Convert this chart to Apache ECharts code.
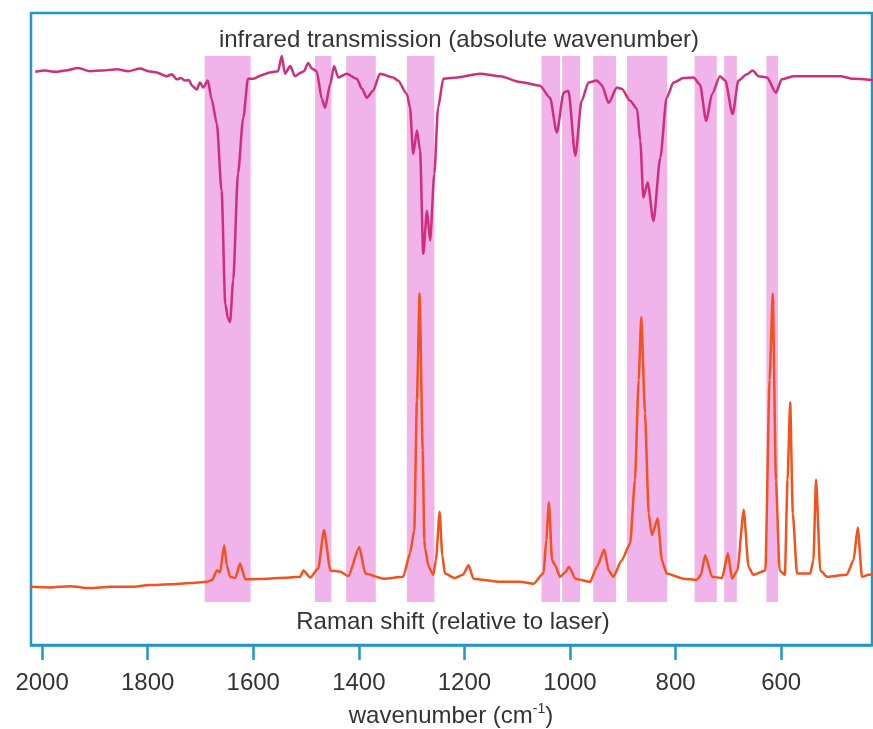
<!DOCTYPE html>
<html>
<head>
<meta charset="utf-8">
<script src="https://cdn.jsdelivr.net/npm/echarts@6/dist/echarts.min.js"></script>
<style>
html,body{margin:0;padding:0;background:#ffffff;}
#c{width:873px;height:729px;}
</style>
</head>
<body>
<div id="c"></div>
<script>
// x: wavenumber (cm-1), y: vertical position in arbitrary units (0-100)
var tickValues = [2000, 1800, 1600, 1400, 1200, 1000, 800, 600];

var irWave = [2013,1994,1975,1956,1932,1909,1886,1858,1837,1814,1799,1783,1764,1754,1745,1737,1729,1722,1716,1707,1701,1695,1686,1679,1669,1660,1653,1648,1644,1638,1629,1619,1610,1600,1583,1568,1553,1546,1540,1530,1521,1511,1504,1496,1489,1480,1470,1464,1454,1447,1439,1423,1404,1394,1385,1373,1360,1335,1326,1309,1303,1297,1290,1284,1278,1271,1265,1257,1250,1240,1214,1170,1132,1095,1057,1038,1025,1012,1003,990,978,965,949,940,927,911,902,886,873,867,861,853,842,829,817,804,785,766,754,742,731,716,706,692,681,665,654,643,627,610,599,577,526,488,464,426];
var irValue = [90.7,90.9,90.7,90.9,91.3,90.8,90.9,91.1,90.8,91.2,90.8,90.6,90.0,90.3,89.5,89.7,89.3,89.4,88.5,87.9,89.0,88.2,89.3,86.4,82.5,71.9,54.0,51.7,51.1,57.7,74.6,83.4,89.6,89.6,90.2,90.6,90.8,93.2,90.4,91.6,90.0,90.5,90.8,92.1,91.2,90.8,86.4,85.0,88.8,91.6,89.8,90.4,89.6,88.0,86.6,87.7,90.4,89.8,89.3,87.2,85.0,77.7,81.4,78.2,61.9,68.7,64.0,74.6,85.0,89.6,89.8,90.4,90.0,89.1,88.5,86.6,81.1,87.4,87.7,77.4,86.1,89.0,89.3,88.6,85.8,88.2,88.0,86.1,84.8,79.8,70.8,73.2,67.1,77.1,86.6,89.0,89.7,89.8,88.7,82.9,87.2,90.0,89.3,84.0,89.3,90.3,90.9,90.0,89.8,87.4,89.5,90.0,90.0,90.0,89.6,89.4];

var ramanWave = [2023,1985,1947,1909,1871,1833,1795,1758,1720,1688,1678,1669,1663,1655,1650,1644,1634,1625,1615,1574,1530,1511,1505,1492,1477,1466,1454,1435,1420,1399,1388,1353,1316,1303,1295,1290,1285,1279,1276,1274.5,1268,1259,1254,1247,1242,1237,1218,1203,1192,1183,1132,1095,1069,1050,1045,1040,1034,1028,1019,1009,1002,990,962,949,935,927,918,902,886,877,870,865,858,851,845,834,826,817,785,760,752,744,731,712,701,693,683,671,662,653,630,622,616,610,603,593,588,583,578,570,545,539,534,526,513,476,463,455,447,435,426];
var ramanValue = [9.2,9.1,9.3,9.0,9.2,9.2,9.5,9.6,9.8,10.0,10.3,11.8,11.5,15.8,12.6,10.8,10.6,12.9,10.4,10.5,10.7,10.8,11.8,10.7,12.1,18.2,11.8,11.6,10.9,15.5,11.3,10.5,10.8,14.5,18.2,38.7,55.6,30.8,16.6,15.3,12.4,11.1,13.4,21.1,14.2,11.3,10.6,11.1,12.6,10.5,10.0,10.0,9.7,11.4,16.6,22.6,13.4,12.6,10.8,11.5,12.4,10.5,10.0,12.4,15.1,11.8,10.8,13.4,16.1,26.1,41.9,51.9,36.7,20.8,17.4,20.0,13.4,11.3,10.5,10.3,11.1,14.2,10.8,10.6,14.5,10.5,11.8,21.4,12.4,11.1,11.8,41.9,55.6,26.1,11.8,11.1,26.1,38.4,20.8,11.3,11.3,13.4,26.2,11.8,10.8,11.1,13.4,18.6,10.8,11.1,11.3];

// shaded correlation bands (wavenumber ranges)
var bandFrom = [1692,1483,1424,1309,1054,1015,956,892,764,708,628];
var bandTo   = [1605,1452,1368,1257,1019,981,913,816,722,684,606];
var bandBottom = 6.8, bandTop = 93.2;

var irTitle = 'infrared transmission (absolute wavenumber)';
var ramanTitle = 'Raman shift (relative to laser)';

function pairs(xs, ys){ var o=[]; for(var i=0;i<xs.length;i++){o.push([xs[i], ys[i]]);} return o; }
var bands = [];
for (var i=0;i<bandFrom.length;i++){
  bands.push([{xAxis: bandFrom[i], yAxis: bandBottom},{xAxis: bandTo[i], yAxis: bandTop}]);
}

var FONT = '"Liberation Sans", Arial, Helvetica, sans-serif';
var BLUE = '#1f97c9';
var chart = echarts.init(document.getElementById('c'), null, {renderer:'canvas'});
chart.setOption({
  animation: false,
  backgroundColor: '#ffffff',
  grid: {left: 31, right: 1, top: 13, bottom: 84, show: true, borderColor: BLUE, borderWidth: 2.5, backgroundColor: 'transparent'},
  xAxis: {
    type: 'value', inverse: true, min: 428, max: 2021,
    splitLine: {show: false},
    axisLine: {show: true, lineStyle: {color: BLUE, width: 2.5}},
    axisTick: {show: true, inside: false, length: 15, lineStyle: {color: BLUE, width: 2.5}, customValues: tickValues},
    axisLabel: {show: true, margin: 26, color: '#333', fontSize: 24, fontFamily: FONT, customValues: tickValues,
                formatter: function (v) { return String(v); }}
  },
  yAxis: {type: 'value', min: 0, max: 100, show: false, splitLine: {show: false}},
  series: [
    {type: 'line', data: [], z: 1, silent: true,
     markArea: {silent: true, itemStyle: {color: '#f0b4ea', opacity: 1}, data: bands}},
    {name: 'IR', type: 'line', data: pairs(irWave, irValue), z: 3, symbol: 'none', smooth: 0.25, smoothMonotone: 'x',
     lineStyle: {color: '#cf2e7e', width: 2.5}},
    {name: 'Raman', type: 'line', data: pairs(ramanWave, ramanValue), z: 3, symbol: 'none', smooth: 0.2, smoothMonotone: 'x',
     lineStyle: {color: '#f4521d', width: 2.5}}
  ],
  graphic: [
    {type: 'text', x: 459, y: 40, z: 10, style: {text: irTitle, align: 'center', verticalAlign: 'middle', fill: '#333', font: '24px ' + FONT}},
    {type: 'text', x: 453, y: 622, z: 10, style: {text: ramanTitle, align: 'center', verticalAlign: 'middle', fill: '#333', font: '24px ' + FONT}},
    {type: 'text', x: 451, y: 716, z: 10, style: {
      text: '{n|wavenumber (cm}{s|-1}{n|)}', align: 'center', verticalAlign: 'middle',
      rich: {n: {fontSize: 24, fontFamily: FONT, fill: '#333', lineHeight: 28, verticalAlign: 'middle'},
             s: {fontSize: 14, fontFamily: FONT, fill: '#333', lineHeight: 16, verticalAlign: 'top'}}
    }}
  ]
});
</script>
</body>
</html>
